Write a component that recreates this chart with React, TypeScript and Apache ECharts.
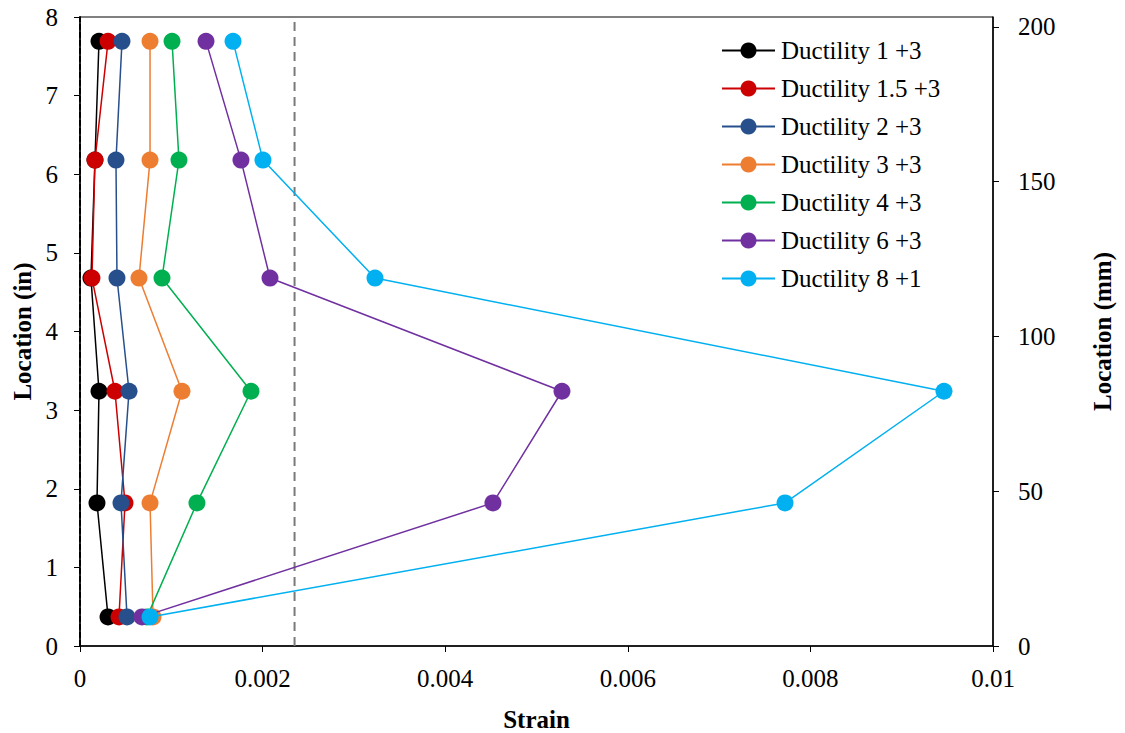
import React, { useEffect, useRef } from "react";
import * as echarts from "echarts";

const locationsIn = [7.69, 6.18, 4.68, 3.24, 1.82, 0.37];
const seriesNames = [
  "Ductility 1 +3",
  "Ductility 1.5 +3",
  "Ductility 2 +3",
  "Ductility 3 +3",
  "Ductility 4 +3",
  "Ductility 6 +3",
  "Ductility 8 +1",
];
const strainD1 = [0.000208, 0.000164, 0.00012, 0.000208, 0.000186, 0.000307];
const strainD15 = [0.000307, 0.000164, 0.000131, 0.000383, 0.000493, 0.000427];
const strainD2 = [0.00046, 0.000394, 0.000405, 0.000537, 0.000449, 0.000515];
const strainD3 = [0.000767, 0.000767, 0.000646, 0.001117, 0.000767, 0.0008];
const strainD4 = [0.001008, 0.001084, 0.000898, 0.001873, 0.001281, 0.000734];
const strainD6 = [0.00138, 0.001763, 0.002081, 0.005279, 0.004523, 0.000679];
const strainD8 = [0.001676, 0.002004, 0.003231, 0.009463, 0.007722, 0.000767];
const allStrains = [strainD1, strainD15, strainD2, strainD3, strainD4, strainD6, strainD8];
const colors = ["#000000", "#CC0000", "#264F8C", "#ED7D31", "#00B050", "#7030A0", "#00B0F0"];
const yieldStrain = 0.00235;
const yieldLineY = [0, 8];
const mmTicks = [0, 50, 100, 150, 200];

const FONT = "Liberation Serif";
const FS = 25;

export default function App() {
  const ref = useRef<HTMLDivElement>(null);
  useEffect(() => {
    if (!ref.current) return;
    const chart = echarts.init(ref.current, undefined, { renderer: "svg" });
    const series: any[] = [
      {
        name: "yield",
        type: "line",
        data: yieldLineY.map((y) => [yieldStrain, y]),
        symbol: "none",
        silent: true,
        lineStyle: { color: "#7a7a7a", type: [9, 6], width: 2 },
        z: 1,
      },
    ];
    seriesNames.forEach((name, i) => {
      series.push({
        name,
        type: "line",
        data: allStrains[i].map((s, j) => [s, locationsIn[j]]),
        symbol: "circle",
        symbolSize: 17,
        lineStyle: { color: colors[i], width: 1.5 },
        itemStyle: { color: colors[i] },
        z: 3 + i,
      });
    });
    chart.setOption({
      animation: false,
      backgroundColor: "#ffffff",
      textStyle: { fontFamily: FONT },
      grid: {
        left: 80,
        right: 132,
        top: 17,
        bottom: 87,
        containLabel: false,
        outerBoundsMode: "none",
        show: true,
        borderColor: "#000",
        borderWidth: 1,
      },
      legend: {
        orient: "vertical",
        left: 716,
        top: 33,
        itemWidth: 53,
        itemHeight: 20,
        itemGap: 13,
        data: seriesNames,
        textStyle: { fontFamily: FONT, fontSize: FS, color: "#000", padding: [0, 0, 0, 1] },
      },
      xAxis: {
        type: "value",
        min: 0,
        max: 0.01,
        interval: 0.002,
        name: "Strain",
        nameLocation: "middle",
        nameGap: 61,
        nameTextStyle: { fontFamily: FONT, fontSize: FS, fontWeight: "bold", color: "#000" },
        axisLine: { lineStyle: { color: "#000", width: 1.5 } },
        axisTick: { show: true, inside: false, length: 6, lineStyle: { color: "#000" } },
        axisLabel: { fontFamily: FONT, fontSize: FS, color: "#000", margin: 20 },
        splitLine: { show: false },
      },
      yAxis: [
        {
          type: "value",
          position: "left",
          min: 0,
          max: 8,
          interval: 1,
          name: "Location (in)",
          nameLocation: "middle",
          nameRotate: 90,
          nameGap: 45,
          nameTextStyle: { fontFamily: FONT, fontSize: FS, fontWeight: "bold", color: "#000" },
          axisLine: { show: true, lineStyle: { color: "#000", width: 2, type: [6, 2] } },
          axisTick: { show: true, length: 6, lineStyle: { color: "#000" } },
          axisLabel: { fontFamily: FONT, fontSize: FS, color: "#000", margin: 22 },
          splitLine: { show: false },
        },
        {
          type: "value",
          position: "right",
          min: 0,
          max: 203.2,
          name: "Location (mm)",
          nameLocation: "middle",
          nameRotate: 90,
          nameGap: 97,
          nameTextStyle: { fontFamily: FONT, fontSize: FS, fontWeight: "bold", color: "#000" },
          axisLine: { show: true, lineStyle: { color: "#000", width: 1.5 } },
          axisTick: { show: true, length: 6, customValues: mmTicks, lineStyle: { color: "#000" } },
          axisLabel: { fontFamily: FONT, fontSize: FS, color: "#000", margin: 25, customValues: mmTicks },
          splitLine: { show: false },
        },
      ],
      series,
    });
    return () => chart.dispose();
  }, []);
  return <div ref={ref} style={{ width: 1125, height: 733, position: "absolute", left: 0, top: 0 }} />;
}
